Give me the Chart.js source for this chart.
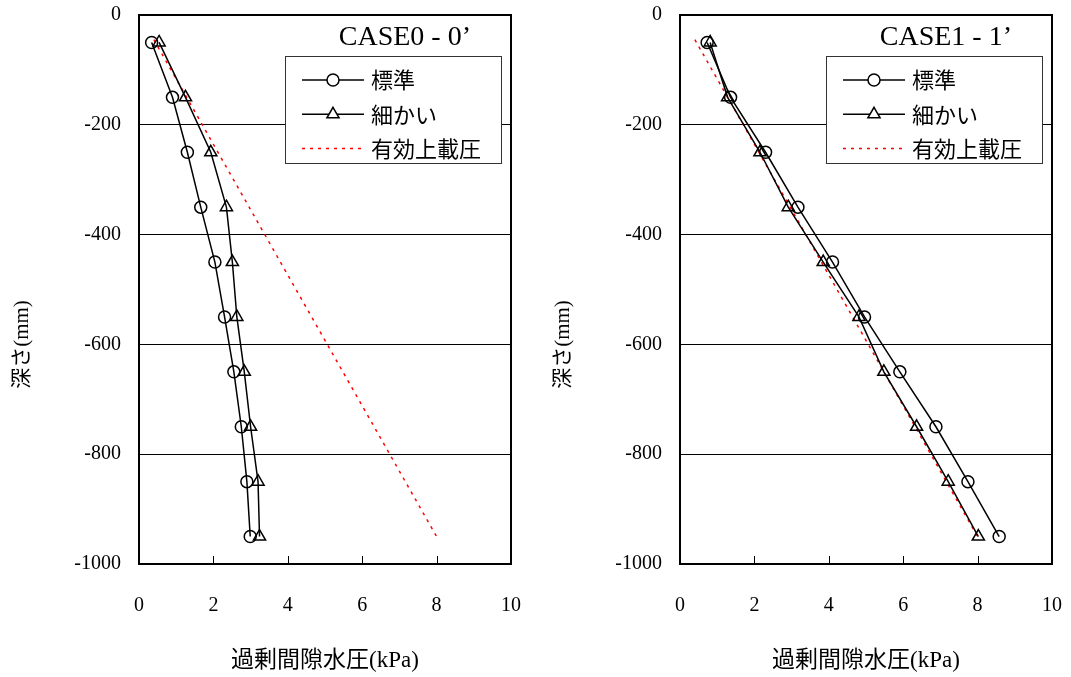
<!DOCTYPE html>
<html>
<head>
<meta charset="utf-8">
<script src="https://cdn.jsdelivr.net/npm/chart.js@4.4.1/dist/chart.umd.min.js"></script>
<style>
  html, body { margin: 0; padding: 0; background: #fff; }
  #wrap { position: relative; width: 1071px; height: 677px; overflow: hidden; }
  #wrap canvas { position: absolute; top: 0; }
</style>
</head>
<body>
<div id="wrap">
  <canvas id="case0" width="535" height="677" style="left:0px"></canvas>
  <canvas id="case1" width="531" height="677" style="left:540px"></canvas>
</div>
<script>
// depth of each measuring point (mm)
const depth = [-50, -150, -250, -350, -450, -550, -650, -750, -850, -950];

// excess pore water pressure (kPa)
const case0Standard = [0.34, 0.90, 1.30, 1.66, 2.04, 2.30, 2.55, 2.75, 2.90, 2.99];
const case0Fine     = [0.54, 1.25, 1.93, 2.35, 2.51, 2.63, 2.83, 3.00, 3.20, 3.24];
const case1Standard = [0.73, 1.36, 2.30, 3.17, 4.10, 4.96, 5.91, 6.88, 7.74, 8.58];
const case1Fine     = [0.81, 1.28, 2.15, 2.91, 3.85, 4.81, 5.48, 6.36, 7.21, 8.02];

// effective overburden pressure line
const overburdenDepth = [-45, -950];
const overburdenValue = [0.4, 8.0];

const seriesNames = ["標準", "細かい", "有効上載圧"];
const xTicks = [0, 2, 4, 6, 8, 10];
const yTicks = [0, -200, -400, -600, -800, -1000];

const serif = "'Liberation Serif', 'Times New Roman', serif";
const mixed = "'Liberation Serif', 'Noto Sans CJK JP', serif";
const gothic = "'Noto Sans CJK JP', 'Noto Sans', sans-serif";

function toPoints(xs, ys) {
  return xs.map((x, i) => ({ x: x, y: ys[i] }));
}

/* frame, inward ticks, case title, legend box, y title */
const decoPlugin = {
  id: "deco",
  afterDraw(chart, args, opts) {
    const ctx = chart.ctx;
    const a = chart.chartArea;
    const xs = chart.scales.x;
    ctx.save();

    // small inward ticks on the bottom edge
    ctx.strokeStyle = "#000";
    ctx.lineWidth = 1;
    xTicks.slice(1, -1).forEach(v => {
      const px = Math.round(xs.getPixelForValue(v)) + 0.5;
      ctx.beginPath();
      ctx.moveTo(px, a.bottom);
      ctx.lineTo(px, a.bottom - 8);
      ctx.stroke();
    });

    // plot frame
    ctx.lineWidth = 2;
    ctx.strokeRect(a.left, a.top, a.right - a.left, a.bottom - a.top);

    // case title
    ctx.fillStyle = "#000";
    ctx.font = "28px " + serif;
    ctx.textAlign = "right";
    ctx.textBaseline = "middle";
    ctx.fillText(opts.title, a.right - 40, a.top + 23);

    // legend
    const bw = 216, bh = 107;
    const bx = Math.round(a.right - 10 - bw), by = Math.round(a.top + 41);
    ctx.fillStyle = "#fff";
    ctx.fillRect(bx, by, bw, bh);
    ctx.lineWidth = 1;
    ctx.strokeStyle = "#333";
    ctx.strokeRect(bx + 0.5, by + 0.5, bw, bh);

    chart.data.datasets.forEach((ds, i) => {
      const y = by + 24 + i * 34.3;
      ctx.save();
      ctx.strokeStyle = ds.borderColor;
      ctx.lineWidth = ds.borderWidth;
      ctx.setLineDash(ds.borderDash || []);
      ctx.beginPath();
      ctx.moveTo(bx + 17, y);
      ctx.lineTo(bx + 79, y);
      ctx.stroke();
      ctx.restore();
      if (ds.pointRadius > 0) {
        ctx.save();
        ctx.strokeStyle = ds.borderColor;
        ctx.fillStyle = "#fff";
        ctx.lineWidth = ds.pointBorderWidth;
        Chart.helpers.drawPoint(ctx, {
          pointStyle: ds.pointStyle,
          radius: ds.pointRadius,
          borderWidth: ds.pointBorderWidth,
          rotation: 0
        }, bx + 48, y);
        ctx.restore();
      }
      ctx.fillStyle = "#000";
      ctx.font = "22px " + gothic;
      ctx.textAlign = "left";
      ctx.textBaseline = "middle";
      ctx.fillText(ds.label, bx + 86, y);
    });

    // y axis title
    ctx.translate(opts.yTitleX, (a.top + a.bottom) / 2 + 55);
    ctx.rotate(-Math.PI / 2);
    ctx.fillStyle = "#000";
    ctx.font = "21px " + mixed;
    ctx.textAlign = "center";
    ctx.textBaseline = "middle";
    ctx.fillText("深さ(mm)", 0, 0);

    ctx.restore();
  }
};

function makeChart(id, title, standard, fine, yAxisWidth, rightPad, yTitleX) {
  return new Chart(document.getElementById(id), {
    type: "scatter",
    data: {
      datasets: [
        {
          label: seriesNames[0],
          data: toPoints(standard, depth),
          showLine: true,
          borderColor: "#000",
          borderWidth: 1.5,
          pointStyle: "circle",
          pointRadius: 6,
          pointBorderWidth: 1.5,
          pointBackgroundColor: "rgba(0,0,0,0)",
          pointBorderColor: "#000"
        },
        {
          label: seriesNames[1],
          data: toPoints(fine, depth),
          showLine: true,
          borderColor: "#000",
          borderWidth: 1.5,
          pointStyle: "triangle",
          pointRadius: 7,
          pointBorderWidth: 1.5,
          pointBackgroundColor: "rgba(0,0,0,0)",
          pointBorderColor: "#000"
        },
        {
          label: seriesNames[2],
          data: toPoints(overburdenValue, overburdenDepth),
          showLine: true,
          borderColor: "#ff0000",
          borderWidth: 1.5,
          borderDash: [3, 5],
          pointRadius: 0,
          pointBorderWidth: 0
        }
      ]
    },
    options: {
      responsive: false,
      animation: false,
      devicePixelRatio: 1,
      layout: { padding: { top: 15, right: rightPad, bottom: 0, left: 0 } },
      plugins: {
        legend: { display: false },
        tooltip: { enabled: false },
        deco: { title: title, yTitleX: yTitleX }
      },
      scales: {
        x: {
          type: "linear",
          min: 0,
          max: 10,
          afterBuildTicks: s => { s.ticks = xTicks.map(v => ({ value: v })); },
          afterFit: s => {
            s.height = 113;
            s.paddingLeft = 0;
            s.paddingRight = 0;
          },
          grid: { display: false, drawTicks: false },
          border: { display: false },
          ticks: {
            padding: 30,
            color: "#000",
            font: { family: serif, size: 20 },
            callback: v => String(v)
          },
          title: {
            display: true,
            text: "過剰間隙水圧(kPa)",
            color: "#000",
            font: { family: mixed, size: 23 },
            padding: { top: 0, bottom: 2 }
          }
        },
        y: {
          type: "linear",
          min: -1000,
          max: 0,
          afterBuildTicks: s => { s.ticks = yTicks.map(v => ({ value: v })); },
          afterFit: s => {
            s.width = yAxisWidth;
            s.paddingTop = 0;
            s.paddingBottom = 0;
          },
          grid: { color: "#000", lineWidth: 1, drawTicks: false },
          border: { display: false },
          ticks: {
            padding: 18,
            color: "#000",
            font: { family: serif, size: 20 },
            callback: v => String(v)
          }
        }
      }
    },
    plugins: [decoPlugin]
  });
}

makeChart("case0", "CASE0 - 0’", case0Standard, case0Fine, 139, 24, 22);
makeChart("case1", "CASE1 - 1’", case1Standard, case1Fine, 140, 19, 23);
</script>
</body>
</html>
